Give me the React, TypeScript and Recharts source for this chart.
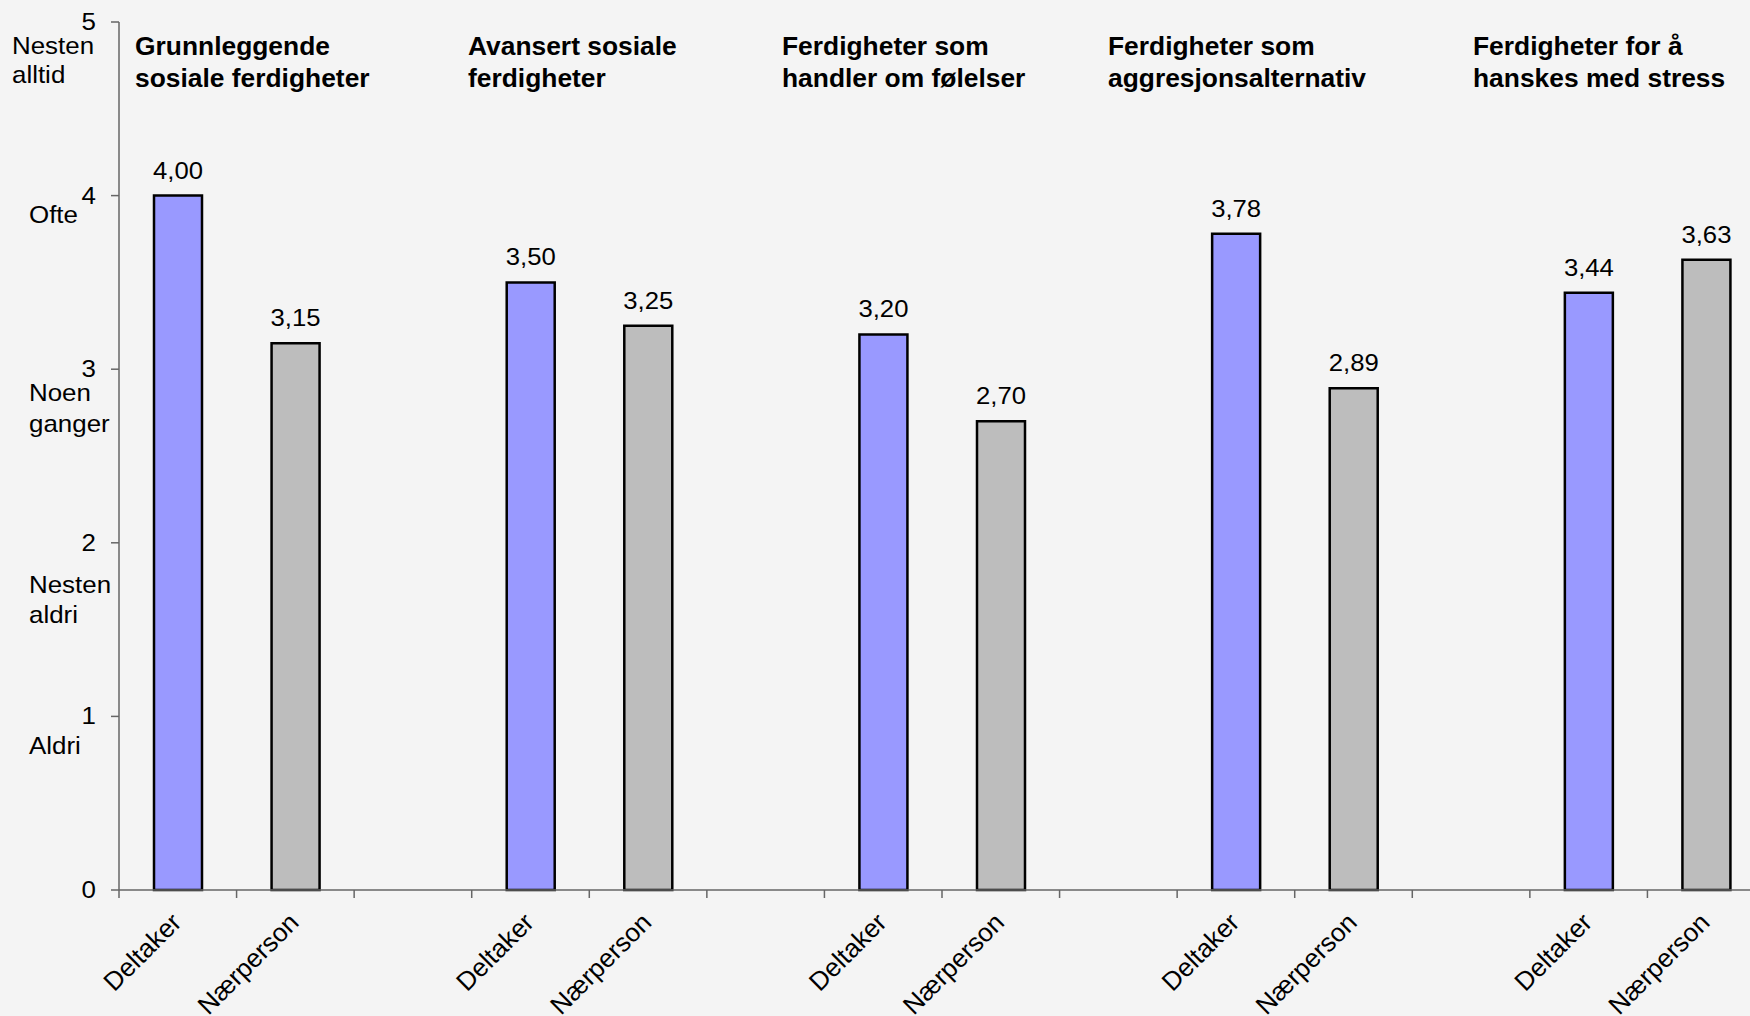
import React from "react";
import { BarChart, Bar, XAxis, YAxis, Cell, LabelList } from "recharts";

// skill areas, two lines each as in the original figure
const groupTitles = [
  ["Grunnleggende", "sosiale ferdigheter"],
  ["Avansert sosiale", "ferdigheter"],
  ["Ferdigheter som", "handler om følelser"],
  ["Ferdigheter som", "aggresjonsalternativ"],
  ["Ferdigheter for å", "hanskes med stress"],
];
const roles = ["Deltaker", "Nærperson"];
const deltaker = [4.0, 3.5, 3.2, 3.78, 3.44];
const naerperson = [3.15, 3.25, 2.7, 2.89, 3.63];
const yTicks = [0, 1, 2, 3, 4, 5];
const scaleLabels = ["", "Aldri", "Nesten\naldri", "Noen\nganger", "Ofte", "Nesten\nalltid"];

type Row = { key: string; label: string; role: number; value: number | null };

const data: Row[] = [];
groupTitles.forEach((_, g) => {
  data.push({ key: `g${g}-d`, label: roles[0], role: 0, value: deltaker[g] });
  data.push({ key: `g${g}-n`, label: roles[1], role: 1, value: naerperson[g] });
  if (g < groupTitles.length - 1) {
    data.push({ key: `g${g}-gap`, label: "", role: -1, value: null });
  }
});

const W = 1750;
const H = 1016;
const CHART_W = 1800;
const PLOT_LEFT = 119;
const PLOT_RIGHT = 1765;
const AXIS_Y = 890;
const TOP = 22;
const BAND = (PLOT_RIGHT - PLOT_LEFT) / data.length;

const FONT = "'Liberation Sans', Arial, sans-serif";
const BG = "#f4f4f4";
const AXIS = "#666";
const COLORS = ["#9999ff", "#bdbdbd"];

// hand placed like the original: left edge and baseline offsets below the tick
const scaleLabelPos: Record<number, { x: number; dy: number[] }> = {
  5: { x: 12, dy: [32, 61] },
  4: { x: 29, dy: [27] },
  3: { x: 29, dy: [32, 63] },
  2: { x: 29, dy: [50, 80] },
  1: { x: 29, dy: [38] },
};
const titleX = [135, 468, 782, 1108, 1473];
const titleBaselines = [55, 87];

const fmt = (v: number) => v.toFixed(2).replace(".", ",");

// the source text is a bit wider than Arial, so stretch it sideways
const SText = ({ x, y, sx = 1, size, anchor = "start", bold = false, children }: any) => (
  <text
    x={0}
    y={0}
    transform={`translate(${x},${y}) scale(${sx},1)`}
    textAnchor={anchor}
    fontSize={size}
    fontWeight={bold ? "bold" : "normal"}
    fontFamily={FONT}
    fill="#000"
  >
    {children}
  </text>
);

const YTick = (props: any) => {
  const { y, payload } = props;
  const v = payload.value as number;
  const pos = scaleLabelPos[v];
  const lines = scaleLabels[v] ? scaleLabels[v].split("\n") : [];
  return (
    <g>
      <SText x={96} y={y + 8} sx={1.08} size={24} anchor="end">
        {v}
      </SText>
      {pos &&
        lines.map((t, i) => (
          <SText key={i} x={pos.x} y={y + pos.dy[i]} sx={1.08} size={24}>
            {t}
          </SText>
        ))}
    </g>
  );
};

const XTick = (props: any) => {
  const { x, payload, index } = props;
  const row = data.find((d) => d.key === payload.value);
  const ax = x + 5;
  const ay = AXIS_Y + 34;
  return (
    <g>
      <line x1={x - BAND / 2} y1={AXIS_Y} x2={x - BAND / 2} y2={AXIS_Y + 8} stroke={AXIS} strokeWidth={1.5} />
      {index === data.length - 1 && (
        <line x1={x + BAND / 2} y1={AXIS_Y} x2={x + BAND / 2} y2={AXIS_Y + 8} stroke={AXIS} strokeWidth={1.5} />
      )}
      {row && row.label && (
        <text
          x={ax}
          y={ay}
          transform={`rotate(-45, ${ax}, ${ay})`}
          textAnchor="end"
          fontSize={26}
          fontFamily={FONT}
          fill="#000"
        >
          {row.label}
        </text>
      )}
    </g>
  );
};

const ValueLabel = (props: any) => {
  const { x, y, width, value } = props;
  if (value === null || value === undefined) return null;
  return (
    <SText x={x + width / 2} y={y - 17} sx={1.07} size={24} anchor="middle">
      {fmt(value)}
    </SText>
  );
};

const App: React.FC = () => {
  return (
    <div
      style={{
        position: "fixed",
        left: 0,
        top: 0,
        width: W,
        height: H,
        overflow: "hidden",
        background: BG,
      }}
    >
      <BarChart
        width={CHART_W}
        height={H}
        data={data}
        margin={{ top: TOP, right: CHART_W - PLOT_RIGHT, left: 0, bottom: 0 }}
      >
        <YAxis
          width={PLOT_LEFT}
          domain={[0, 5]}
          ticks={yTicks}
          interval={0}
          tickSize={8}
          axisLine={{ stroke: AXIS, strokeWidth: 1.5 }}
          tickLine={{ stroke: AXIS, strokeWidth: 1.5 }}
          tick={<YTick />}
        />
        <XAxis
          dataKey="key"
          height={H - AXIS_Y}
          interval={0}
          tickLine={false}
          axisLine={{ stroke: AXIS, strokeWidth: 1.5 }}
          tick={<XTick />}
        />
        <Bar dataKey="value" barSize={48} stroke="#000" strokeWidth={2.5} isAnimationActive={false}>
          {data.map((d) => (
            <Cell key={d.key} fill={d.role >= 0 ? COLORS[d.role] : "none"} />
          ))}
          <LabelList dataKey="value" content={<ValueLabel />} />
        </Bar>
      </BarChart>
      <svg
        width={W}
        height={H}
        style={{ position: "absolute", left: 0, top: 0, pointerEvents: "none" }}
      >
        {groupTitles.map((lines, g) =>
          lines.map((t, i) => (
            <SText key={`${g}-${i}`} x={titleX[g]} y={titleBaselines[i]} sx={1.035} size={25.5} bold>
              {t}
            </SText>
          ))
        )}
      </svg>
    </div>
  );
};

export default App;
